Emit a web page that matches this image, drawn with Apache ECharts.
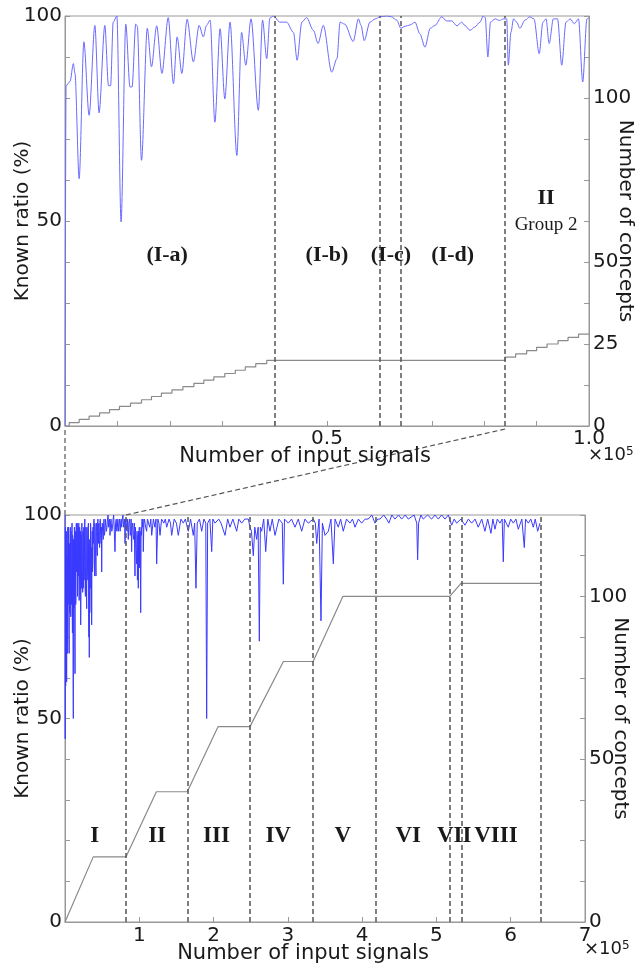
<!DOCTYPE html>
<html>
<head>
<meta charset="utf-8">
<script src="https://cdn.jsdelivr.net/npm/echarts@6/dist/echarts.min.js"></script>
<style>html,body{margin:0;padding:0;background:#fff;}#c{width:638px;height:964px;}</style>
</head>
<body>
<div id="c"></div>
<script>
// ---------- DATA ----------
// Top panel (x in units of 1e5 input signals)
var topRatio = [[0,0],[0.002,83],[0.0095,84],[0.016,88.4],[0.019,86],[0.027,60.3],[0.036,93.7],[0.046,75.8],[0.057,97.7],[0.065,76.4],[0.076,97.7],[0.083,83],[0.087,83],[0.092,98.5],[0.099,100],[0.107,49.8],[0.116,98],[0.124,82.7],[0.128,82.7],[0.135,98],[0.138,97.5],[0.146,64.8],[0.157,97],[0.165,87.6],[0.175,97.6],[0.185,86],[0.197,99.6],[0.207,83.5],[0.214,94.9],[0.223,86],[0.233,99.2],[0.245,88.8],[0.256,97.7],[0.264,94.9],[0.270,97.7],[0.277,99],[0.286,74.1],[0.296,96.9],[0.305,79.8],[0.315,98.5],[0.328,66],[0.337,96],[0.345,88],[0.355,99.3],[0.369,77],[0.377,99],[0.385,89.6],[0.391,99.5],[0.398,100],[0.410,98.5],[0.423,98.5],[0.436,96],[0.443,89.2],[0.452,98.5],[0.461,99.6],[0.474,96.5],[0.483,93.3],[0.493,97.7],[0.509,86.3],[0.519,89.6],[0.525,98.5],[0.534,98],[0.550,93.8],[0.560,99.3],[0.565,97.7],[0.571,94],[0.582,98.5],[0.592,99.3],[0.601,99.8],[0.614,100],[0.623,99.8],[0.633,99],[0.641,97],[0.649,97.5],[0.658,97.8],[0.668,98.5],[0.677,95.7],[0.687,92.4],[0.697,97],[0.706,97.7],[0.719,99.8],[0.728,98.8],[0.738,98.8],[0.748,97.6],[0.757,98.5],[0.763,97.7],[0.773,96.5],[0.782,97.3],[0.792,98.5],[0.798,100],[0.802,99.6],[0.807,90],[0.812,98.5],[0.821,99.3],[0.829,98.9],[0.837,99.3],[0.843,99.3],[0.846,88],[0.851,96],[0.856,99.3],[0.862,98.5],[0.868,97],[0.878,99],[0.887,99.8],[0.895,99.3],[0.905,90.8],[0.912,98.5],[0.918,99.3],[0.924,93.3],[0.932,99.3],[0.940,99.3],[0.948,88],[0.956,98.5],[0.964,99.3],[0.972,98.1],[0.980,99.3],[0.988,83.9],[0.996,99.3],[1.0,99.6]];
var topConceptX = [0,0.008,0.027,0.046,0.066,0.085,0.104,0.125,0.146,0.165,0.184,0.204,0.225,0.246,0.265,0.284,0.305,0.325,0.344,0.364,0.385,0.84,0.86,0.881,0.9,0.92,0.941,0.96,0.98,1.0];
var topConceptY = [0,1,2,3,4,5,6,7,8,9,10,11,12,13,14,15,16,17,18,19,20,21,22,23,24,25,26,27,28,28];
var topBoundaries = [0.4, 0.6, 0.64, 0.84];
var topRegionNames = ['(I-a)','(I-b)','(I-c)','(I-d)','II'];
var topRegionX = [0.195, 0.5, 0.622, 0.74, 0.918];
var topRegionY = [41.7, 41.7, 41.7, 41.7, 55.6];
var topNote = {text:'Group 2', x:0.918, y:49};

// Bottom panel (x in units of 1e5 input signals)
var bottomRatio = [[0,100],[0.003,45],[0.006,97],[0.009,58],[0.012,90],[0.015,62],[0.018,96],[0.022,59],[0.025,88],[0.028,90],[0.031,66],[0.033,70],[0.036,94],[0.038,97],[0.041,78],[0.045,82],[0.048,97],[0.05,95],[0.053,72],[0.056,66],[0.058,93],[0.06,88],[0.063,76],[0.067,82],[0.07,95],[0.072,97],[0.075,80],[0.078,75],[0.08,96],[0.083,92],[0.086,78],[0.09,82],[0.093,97],[0.095,98],[0.098,76],[0.1,71],[0.103,95],[0.106,93],[0.109,62],[0.112,50],[0.115,94],[0.118,90],[0.121,77],[0.124,80],[0.127,97],[0.13,97],[0.132,70],[0.135,61],[0.138,96],[0.14,94],[0.144,78],[0.147,79],[0.15,97],[0.153,98],[0.157,86],[0.16,88],[0.163,98],[0.166,97],[0.169,80],[0.172,83],[0.176,97],[0.18,85],[0.183,97],[0.186,98],[0.19,79],[0.193,80],[0.197,97],[0.2,96],[0.203,84],[0.205,87],[0.208,96],[0.211,73],[0.214,80],[0.217,95],[0.221,82],[0.224,84],[0.227,98],[0.23,98],[0.234,84],[0.238,81],[0.242,96],[0.247,82],[0.25,90],[0.253,97],[0.257,84],[0.26,86],[0.264,97],[0.267,99],[0.271,82],[0.275,80],[0.28,97],[0.285,96],[0.289,80],[0.292,77],[0.296,97],[0.3,95],[0.304,86],[0.308,84],[0.312,97],[0.315,98],[0.319,78],[0.322,70],[0.325,90],[0.327,65],[0.33,90],[0.333,94],[0.337,84],[0.34,82],[0.344,98],[0.347,97],[0.35,80],[0.353,76],[0.356,92],[0.359,73],[0.363,90],[0.366,96],[0.37,86],[0.373,88],[0.377,97],[0.381,93],[0.386,97],[0.39,99],[0.394,88],[0.398,85],[0.402,98],[0.405,97],[0.411,90],[0.417,85],[0.421,97],[0.425,98],[0.43,92],[0.435,90],[0.439,98],[0.443,99],[0.449,93],[0.456,98],[0.461,94],[0.466,92],[0.47,98],[0.475,99],[0.48,95],[0.486,93],[0.49,97],[0.494,86],[0.498,95],[0.502,98],[0.508,96],[0.515,94],[0.52,98],[0.525,99],[0.53,95],[0.538,96],[0.544,99],[0.55,99],[0.558,96],[0.565,97],[0.572,99],[0.58,100],[0.587,97],[0.595,97],[0.6,99],[0.606,95],[0.613,98],[0.62,99],[0.63,96],[0.64,97],[0.648,99],[0.655,100],[0.664,96],[0.673,91],[0.681,98],[0.69,99],[0.697,96],[0.705,97],[0.711,99],[0.718,96],[0.727,98],[0.735,99],[0.742,96],[0.75,98],[0.756,99],[0.763,97],[0.771,99],[0.78,100],[0.788,97],[0.795,98],[0.802,99],[0.808,93],[0.814,98],[0.82,99],
[0.835,96],[0.843,99],[0.852,94],[0.86,98],[0.87,99],[0.878,95],[0.885,96],[0.89,99],[0.897,91],[0.903,97],[0.91,98],[0.918,95],[0.925,94],[0.933,98],[0.942,85],[0.948,97],[0.955,97],[0.96,90],[0.965,88],[0.97,96],[0.975,84],[0.981,95],[0.987,82],[0.991,96],[0.995,90],[1.0,97],[1.005,87],[1.012,96],[1.019,76],[1.025,97],[1.03,95],[1.037,99],[1.045,97],[1.05,99],[1.054,91],[1.062,98],[1.07,99],[1.085,97],[1.099,96],[1.11,99],[1.12,99],[1.14,97],[1.155,99],[1.167,95],[1.19,99],[1.21,97],[1.225,99],[1.234,88],[1.25,99],[1.265,98],[1.279,95],[1.3,99],[1.33,98],[1.35,99],[1.369,97],[1.4,99],[1.42,98],[1.436,95],[1.47,99],[1.5,98],[1.525,95],[1.56,99],[1.593,98],[1.62,99],[1.646,97],[1.66,96],[1.69,99],[1.727,95],[1.745,98],
[1.763,82],[1.78,98],[1.81,99],[1.84,96],[1.87,99],[1.895,98],[1.907,50],[1.92,98],[1.95,99],[1.975,91],[1.99,99],[2.02,98],[2.042,98],[2.07,99],[2.1,98],[2.154,95],[2.19,99],[2.221,97],[2.26,99],[2.311,96],[2.34,99],[2.378,98],[2.42,99],[2.468,99],[2.49,97],
[2.51,96],[2.535,90],[2.555,97],[2.58,94],[2.6,97],[2.616,69],[2.63,97],[2.647,96],[2.675,99],[2.702,91],[2.73,99],[2.759,96],[2.79,99],[2.827,95],[2.88,99],[2.925,98],[2.939,83],[2.955,99],[3.006,98],[3.05,99],[3.096,97],[3.14,99],[3.186,96],[3.23,99],[3.275,98],[3.342,99],
[3.37,98],[3.388,93],[3.42,99],[3.446,74],[3.465,98],[3.5,95],[3.545,96],[3.58,99],[3.612,88],[3.635,99],[3.679,97],[3.71,99],[3.746,96],[3.79,99],[3.836,98],[3.87,99],[3.904,97],[3.95,99],[3.993,98],[4.04,99],[4.083,99],[4.13,100],[4.173,98],[4.21,99],[4.24,99],[4.29,100],[4.33,99],
[4.36,98],[4.4,100],[4.442,99],[4.49,100],[4.532,99],[4.58,100],[4.621,99],[4.7,100],[4.735,98],[4.747,89],[4.76,98],[4.79,100],[4.823,99],[4.88,100],[4.936,99],[4.98,100],[5.025,99],[5.07,100],[5.115,99],[5.16,100],[5.205,97.5],
[5.24,99],[5.272,98],[5.33,99],[5.384,97.5],[5.43,99],[5.474,98],[5.52,99],[5.563,97],[5.61,99],[5.653,96],[5.69,99],[5.734,95.5],[5.76,99],[5.788,96.5],[5.82,99],[5.855,98],[5.885,99],[5.9,88.5],[5.915,99],[5.94,98],[5.967,97],[6.0,99],[6.035,98],[6.07,99],[6.102,96.5],[6.15,99],[6.183,92],[6.2,99],[6.237,98],[6.27,99],[6.304,97],[6.33,99],[6.363,96],[6.394,98]];
var bottomConceptX = [0, 0.38, 0.82, 1.23, 1.646, 2.06, 2.49, 2.94, 3.34, 3.74, 5.18, 5.33, 6.40];
var bottomConceptY = [0, 20, 20, 40, 40, 60, 60, 80, 80, 100, 100, 104, 104];
var bottomBoundaries = [0.82, 1.646, 2.49, 3.34, 4.18, 5.18, 5.34, 6.40];
var bottomRegionNames = ['I','II','III','IV','V','VI','VII','VIII'];
var bottomRegionX = [0.40, 1.24, 2.04, 2.87, 3.74, 4.62, 5.24, 5.80];
var bottomRegionY = [21, 21, 21, 21, 21, 21, 21, 21];

var topRightTicks = [0, 25, 50, 100];
var bottomRightTicks = [0, 50, 100];
var leftTicks = [0, 50, 100];

// ---------- CHART ----------
var FONT = 'DejaVu Sans';
var AX = '#999';
var TXT = '#1a1a1a';
var TICKFS = 20;
function zip(xs, ys){ return xs.map(function(x,i){ return [x, ys[i]]; }); }
function labelSeries(xi, yi, xs, ys, names, style){
  return {type:'scatter', xAxisIndex:xi, yAxisIndex:yi, symbolSize:1, silent:true, z:10,
    itemStyle:{opacity:0},
    data: xs.map(function(x,i){ return {value:[x, ys[i]], name:names[i]}; }),
    label:Object.assign({show:true, position:'inside', formatter:'{b}', color:TXT, opacity:1}, style)};
}
function dashed(xi, yi, vals){
  return {type:'line', xAxisIndex:xi, yAxisIndex:yi, data:[], silent:true,
    markLine:{symbol:['none','none'], silent:true, label:{show:false},
      lineStyle:{color:'#555', width:1.5, type:[5,3]},
      data: vals.map(function(v){ return {xAxis:v}; })}};
}
var chart = echarts.init(document.getElementById('c'), null, {renderer:'canvas'});
var yLeftBase = {type:'value', min:0, max:100, interval:10,
  axisLine:{show:true, lineStyle:{color:AX}}, axisTick:{inside:true, length:5, lineStyle:{color:AX}},
  splitLine:{show:false},
  axisLabel:{margin:3, fontFamily:FONT, fontSize:TICKFS, color:TXT, formatter:function(v){ return leftTicks.indexOf(v)>=0 ? String(v) : ''; }},
  name:'Known ratio (%)', nameLocation:'middle', nameGap:32, nameMoveOverlap:false,
  nameTextStyle:{fontFamily:FONT, fontSize:20, color:TXT}};
function yRight(grid, ticks, gap){
  return {type:'value', gridIndex:grid, position:'right', min:0, max:125, interval:12.5,
    axisLine:{show:true, lineStyle:{color:AX}}, axisTick:{inside:true, length:5, lineStyle:{color:AX}},
    splitLine:{show:false},
    axisLabel:{margin:4, fontFamily:FONT, fontSize:TICKFS, color:TXT, formatter:function(v){ return ticks.indexOf(v)>=0 ? String(v) : ''; }},
    name:'Number of concepts', nameLocation:'middle', nameRotate:-90, nameGap:gap, nameMoveOverlap:false,
    nameTextStyle:{fontFamily:FONT, fontSize:20, color:TXT}};
}
var option = {
  animation:false,
  backgroundColor:'#fff',
  grid:[
    {left:65, top:16, width:524, height:410, show:true, borderColor:AX, borderWidth:1, containLabel:false, outerBoundsMode:'none'},
    {left:65, top:515, width:520, height:407, show:true, borderColor:AX, borderWidth:1, containLabel:false, outerBoundsMode:'none'}
  ],
  xAxis:[
    {type:'value', gridIndex:0, min:0, max:1.0, interval:0.1,
      axisLine:{lineStyle:{color:AX}}, axisTick:{inside:true, length:5, lineStyle:{color:AX}}, splitLine:{show:false},
      axisLabel:{margin:3, fontFamily:FONT, fontSize:TICKFS, color:TXT, showMinLabel:false,
        formatter:function(v){ return Math.abs(v-0.5)<1e-6 ? '0.5' : (Math.abs(v-1)<1e-6 ? '1.0' : ''); }},
      name:'Number of input signals', nameLocation:'middle', nameGap:20, nameMoveOverlap:false,
      nameTextStyle:{fontFamily:FONT, fontSize:21, color:TXT, padding:[0,44,0,0]}},
    {type:'value', gridIndex:1, min:0, max:7, interval:1,
      axisLine:{lineStyle:{color:AX}}, axisTick:{inside:true, length:5, lineStyle:{color:AX}}, splitLine:{show:false},
      axisLabel:{margin:4, fontFamily:FONT, fontSize:TICKFS, color:TXT, formatter:function(v){ return v===0 ? '' : String(v); }},
      name:'Number of input signals', nameLocation:'middle', nameGap:21, nameMoveOverlap:false,
      nameTextStyle:{fontFamily:FONT, fontSize:21, color:TXT, padding:[0,44,0,0]}}
  ],
  yAxis:[
    Object.assign({}, yLeftBase, {gridIndex:0}),
    yRight(0, topRightTicks, 26),
    Object.assign({}, yLeftBase, {gridIndex:1}),
    yRight(1, bottomRightTicks, 25)
  ],
  graphic:[],
  series:[
    {type:'line', xAxisIndex:0, yAxisIndex:0, data:topRatio, showSymbol:false, smooth:0.3, smoothMonotone:'x',
      lineStyle:{color:'#6a6aff', width:1}, z:3},
    {type:'line', xAxisIndex:0, yAxisIndex:1, data:zip(topConceptX, topConceptY), step:'end', showSymbol:false,
      lineStyle:{color:'#8a8a8a', width:1.2}, z:3},
    {type:'line', xAxisIndex:1, yAxisIndex:2, data:bottomRatio, showSymbol:false,
      lineStyle:{color:'#3a3aff', width:1}, z:3},
    {type:'line', xAxisIndex:1, yAxisIndex:3, data:zip(bottomConceptX, bottomConceptY), showSymbol:false,
      lineStyle:{color:'#8a8a8a', width:1.2}, z:3},
    dashed(0, 1, topBoundaries),
    dashed(1, 3, bottomBoundaries),
    labelSeries(0, 0, topRegionX, topRegionY, topRegionNames, {fontFamily:'Liberation Serif', fontWeight:'bold', fontSize:22}),
    labelSeries(0, 0, [topNote.x], [topNote.y], [topNote.text], {fontFamily:'Liberation Serif', fontSize:19}),
    labelSeries(1, 2, bottomRegionX, bottomRegionY, bottomRegionNames, {fontFamily:'Liberation Serif', fontWeight:'bold', fontSize:23})
  ]
};
chart.setOption(option);

// connecting dashed lines between panels + exponent labels
var a0 = chart.convertToPixel({xAxisIndex:0, yAxisIndex:0}, [0, 0]);
var a1 = chart.convertToPixel({xAxisIndex:1, yAxisIndex:2}, [0, 100]);
var b0 = chart.convertToPixel({xAxisIndex:0, yAxisIndex:0}, [topBoundaries[3], 0]);
var b1 = chart.convertToPixel({xAxisIndex:1, yAxisIndex:2}, [bottomBoundaries[0], 100]);
var tEnd = chart.convertToPixel({xAxisIndex:0, yAxisIndex:0}, [1, 0]);
var bEnd = chart.convertToPixel({xAxisIndex:1, yAxisIndex:2}, [7, 0]);
var dashStyle = {stroke:'#555', lineWidth:1.2, lineDash:[5,3]};
function expo(p, dy){
  return {type:'text', left:p[0]-1, top:p[1]+dy, z:20,
    style:{text:'{a|×10}{b|5}', rich:{a:{fontFamily:FONT, fontSize:18, fill:TXT, verticalAlign:'bottom'}, b:{fontFamily:FONT, fontSize:12, fill:TXT, verticalAlign:'top'}}}};
}
chart.setOption({graphic:[
  {type:'line', shape:{x1:a0[0], y1:a0[1]+4, x2:a1[0], y2:a1[1]}, style:dashStyle, silent:true},
  {type:'line', shape:{x1:b0[0], y1:b0[1]+3, x2:b1[0], y2:b1[1]}, style:dashStyle, silent:true},
  expo(tEnd, 20),
  expo(bEnd, 18)
]});
</script>
</body>
</html>
